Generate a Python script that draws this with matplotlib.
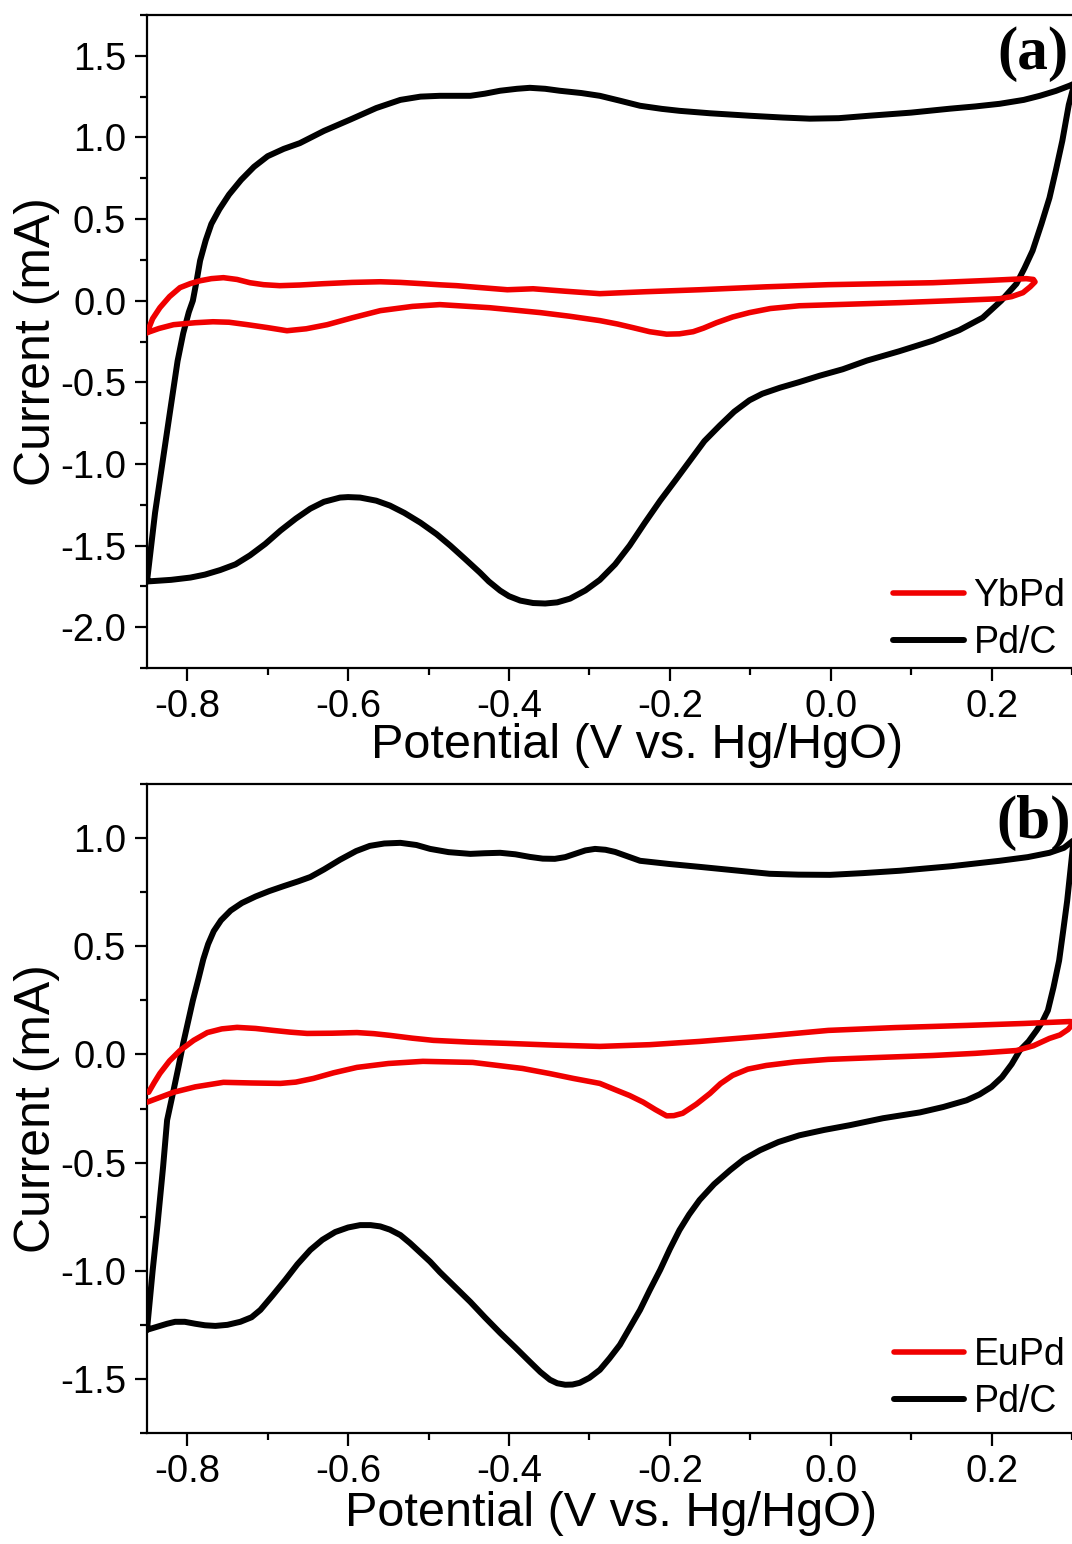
import matplotlib
matplotlib.use("Agg")
import matplotlib.pyplot as plt
from matplotlib.ticker import MultipleLocator, FormatStrFormatter

plt.rcParams['font.family'] = ['Liberation Sans', 'DejaVu Sans']

# ---------------- Panel (a): YbPd vs Pd/C ----------------
a_pdc_x = [-0.850, -0.840, -0.831, -0.822, -0.812, -0.805, -0.798, -0.793, -0.788, -0.784,
           -0.777, -0.770, -0.760, -0.748, -0.733, -0.717, -0.700, -0.680, -0.660, -0.630,
           -0.597, -0.565, -0.535, -0.510, -0.486, -0.448, -0.430, -0.411, -0.390, -0.374,
           -0.355, -0.337, -0.310, -0.287, -0.262, -0.237, -0.210, -0.188, -0.150, -0.101,
           -0.060, -0.026, 0.010, 0.048, 0.100, 0.148, 0.180, 0.210, 0.240, 0.260,
           0.280, 0.297, 0.303,
           0.296, 0.288, 0.280, 0.272, 0.262, 0.251, 0.241, 0.231, 0.212, 0.189,
           0.160, 0.127, 0.085, 0.045, 0.015, -0.014, -0.040, -0.063, -0.085, -0.101,
           -0.120, -0.138, -0.157, -0.175, -0.193, -0.212, -0.231, -0.250, -0.268, -0.287,
           -0.305, -0.324, -0.340, -0.355, -0.370, -0.386, -0.400, -0.411, -0.425, -0.436,
           -0.455, -0.473, -0.490, -0.510, -0.530, -0.548, -0.565, -0.585, -0.600, -0.610,
           -0.630, -0.647, -0.665, -0.684, -0.703, -0.722, -0.740, -0.759, -0.778, -0.796,
           -0.820, -0.850]
a_pdc_y = [-1.72, -1.30, -1.00, -0.70, -0.37, -0.20, -0.07, 0.00, 0.13, 0.245,
           0.37, 0.47, 0.56, 0.65, 0.74, 0.82, 0.885, 0.930, 0.965, 1.04,
           1.11, 1.18, 1.23, 1.25, 1.255, 1.255, 1.268, 1.286, 1.298, 1.304,
           1.298, 1.286, 1.272, 1.255, 1.225, 1.194, 1.175, 1.163, 1.148, 1.133,
           1.122, 1.115, 1.118, 1.133, 1.152, 1.176, 1.19, 1.206, 1.23, 1.255,
           1.285, 1.317, 1.33,
           1.20, 0.98, 0.80, 0.63, 0.47, 0.306, 0.20, 0.104, 0.00, -0.104,
           -0.18, -0.245, -0.31, -0.367, -0.42, -0.46, -0.50, -0.533, -0.57, -0.61,
           -0.68, -0.765, -0.86, -0.98, -1.10, -1.225, -1.36, -1.50, -1.615, -1.71,
           -1.775, -1.825, -1.848, -1.855, -1.852, -1.837, -1.81, -1.776, -1.72, -1.666,
           -1.58, -1.50, -1.43, -1.36, -1.30, -1.255, -1.225, -1.206, -1.203, -1.206,
           -1.232, -1.274, -1.335, -1.408, -1.49, -1.56, -1.615, -1.65, -1.678, -1.696,
           -1.71, -1.72]

a_ybpd_x = [-0.850, -0.843, -0.834, -0.822, -0.809, -0.796, -0.784, -0.770, -0.755, -0.738,
            -0.722, -0.705, -0.685, -0.660, -0.631, -0.595, -0.560, -0.535, -0.507, -0.485,
            -0.465, -0.435, -0.402, -0.370, -0.330, -0.287, -0.230, -0.163, -0.080, -0.003,
            0.127, 0.200, 0.243, 0.252, 0.254, 0.248, 0.239, 0.225, 0.210, 0.150,
            0.086, 0.020, -0.039, -0.075, -0.101, -0.122, -0.142, -0.158, -0.171, -0.188,
            -0.204, -0.225, -0.246, -0.265, -0.287, -0.325, -0.361, -0.424, -0.486, -0.520,
            -0.560, -0.595, -0.626, -0.652, -0.676, -0.700, -0.725, -0.748, -0.768, -0.790,
            -0.817, -0.835, -0.850]
a_ybpd_y = [-0.196, -0.11, -0.043, 0.025, 0.080, 0.105, 0.122, 0.135, 0.141, 0.130,
            0.110, 0.098, 0.092, 0.096, 0.104, 0.112, 0.116, 0.112, 0.104, 0.097,
            0.092, 0.080, 0.067, 0.073, 0.058, 0.043, 0.055, 0.067, 0.085, 0.098,
            0.110, 0.125, 0.135, 0.130, 0.115, 0.085, 0.049, 0.025, 0.012, 0.000,
            -0.012, -0.022, -0.031, -0.048, -0.073, -0.100, -0.135, -0.168, -0.190, -0.203,
            -0.205, -0.190, -0.165, -0.143, -0.122, -0.095, -0.073, -0.043, -0.024, -0.035,
            -0.061, -0.105, -0.147, -0.172, -0.184, -0.165, -0.147, -0.132, -0.129, -0.135,
            -0.147, -0.170, -0.196]

# ---------------- Panel (b): EuPd vs Pd/C ----------------
b_pdc_x = [-0.850, -0.843, -0.837, -0.830, -0.825, -0.817, -0.811, -0.805, -0.799, -0.793,
           -0.786, -0.780, -0.774, -0.767, -0.758, -0.746, -0.732, -0.715, -0.698, -0.680,
           -0.662, -0.647, -0.630, -0.610, -0.590, -0.573, -0.555, -0.535, -0.515, -0.498,
           -0.475, -0.448, -0.430, -0.411, -0.392, -0.374, -0.358, -0.343, -0.330, -0.318,
           -0.305, -0.293, -0.280, -0.268, -0.252, -0.237, -0.200, -0.163, -0.120, -0.076,
           -0.040, -0.001, 0.040, 0.086, 0.150, 0.210, 0.245, 0.272, 0.290, 0.302,
           0.298, 0.294, 0.289, 0.284, 0.277, 0.270, 0.263, 0.256, 0.246, 0.235,
           0.225, 0.213, 0.200, 0.185, 0.169, 0.140, 0.111, 0.065, 0.024, -0.008,
           -0.039, -0.065, -0.088, -0.108, -0.125, -0.145, -0.163, -0.176, -0.188, -0.200,
           -0.212, -0.225, -0.237, -0.250, -0.262, -0.275, -0.287, -0.300, -0.312, -0.321,
           -0.330, -0.340, -0.349, -0.361, -0.374, -0.392, -0.411, -0.430, -0.448, -0.467,
           -0.486, -0.498, -0.511, -0.523, -0.535, -0.548, -0.560, -0.572, -0.585, -0.600,
           -0.616, -0.632, -0.647, -0.663, -0.678, -0.694, -0.709, -0.720, -0.734, -0.750,
           -0.765, -0.778, -0.790, -0.803, -0.815, -0.825, -0.834, -0.850]
b_pdc_y = [-1.273, -1.00, -0.789, -0.52, -0.304, -0.166, -0.06, 0.051, 0.15, 0.249,
           0.35, 0.44, 0.51, 0.57, 0.62, 0.665, 0.700, 0.730, 0.755, 0.778,
           0.800, 0.820, 0.855, 0.900, 0.940, 0.964, 0.975, 0.978, 0.968, 0.950,
           0.935, 0.927, 0.930, 0.932, 0.925, 0.913, 0.905, 0.904, 0.912, 0.927,
           0.943, 0.950, 0.946, 0.936, 0.915, 0.895, 0.880, 0.867, 0.851, 0.835,
           0.831, 0.830, 0.838, 0.849, 0.870, 0.895, 0.912, 0.932, 0.955, 0.990,
           0.85, 0.71, 0.57, 0.434, 0.31, 0.203, 0.15, 0.111, 0.06, 0.018,
           -0.045, -0.105, -0.150, -0.185, -0.212, -0.243, -0.268, -0.295, -0.327, -0.349,
           -0.374, -0.405, -0.443, -0.485, -0.535, -0.600, -0.673, -0.740, -0.812, -0.900,
           -0.996, -1.09, -1.181, -1.265, -1.342, -1.405, -1.458, -1.495, -1.518, -1.526,
           -1.527, -1.520, -1.504, -1.468, -1.421, -1.355, -1.287, -1.215, -1.144, -1.075,
           -1.006, -0.958, -0.913, -0.872, -0.835, -0.810, -0.795, -0.789, -0.789, -0.800,
           -0.821, -0.857, -0.904, -0.970, -1.042, -1.115, -1.181, -1.215, -1.236, -1.250,
           -1.255, -1.252, -1.245, -1.236, -1.236, -1.245, -1.255, -1.273]

b_eupd_x = [-0.848, -0.841, -0.834, -0.822, -0.809, -0.792, -0.775, -0.757, -0.738, -0.715,
            -0.693, -0.672, -0.651, -0.620, -0.589, -0.568, -0.548, -0.520, -0.494, -0.450,
            -0.402, -0.345, -0.287, -0.225, -0.163, -0.080, -0.003, 0.080, 0.169, 0.240,
            0.297, 0.303,
            0.295, 0.285, 0.272, 0.252, 0.231, 0.180, 0.127, 0.060, -0.003, -0.045,
            -0.080, -0.103, -0.122, -0.137, -0.150, -0.167, -0.184, -0.195, -0.204, -0.218,
            -0.233, -0.250, -0.266, -0.287, -0.320, -0.350, -0.383, -0.445, -0.507, -0.550,
            -0.589, -0.618, -0.643, -0.665, -0.684, -0.720, -0.755, -0.790, -0.817, -0.850]
b_eupd_y = [-0.175, -0.13, -0.088, -0.030, 0.018, 0.065, 0.101, 0.118, 0.125, 0.120,
            0.111, 0.103, 0.097, 0.098, 0.101, 0.096, 0.088, 0.075, 0.065, 0.057,
            0.051, 0.043, 0.037, 0.045, 0.060, 0.085, 0.111, 0.124, 0.134, 0.143,
            0.152, 0.150,
            0.115, 0.090, 0.074, 0.040, 0.018, 0.005, -0.005, -0.014, -0.023, -0.035,
            -0.051, -0.068, -0.097, -0.135, -0.180, -0.230, -0.272, -0.283, -0.284, -0.255,
            -0.221, -0.190, -0.166, -0.134, -0.111, -0.088, -0.065, -0.037, -0.032, -0.042,
            -0.060, -0.085, -0.111, -0.128, -0.134, -0.132, -0.129, -0.150, -0.175, -0.221]

panels = [
    dict(pos=[147/1072, 1-668/1544, 925/1072, (668-15)/1544], ylim=(-2.25, 1.75),
         alloy=("YbPd", a_ybpd_x, a_ybpd_y), pdc=(a_pdc_x, a_pdc_y),
         tag="(a)", xlab=(0.530, -0.084), leg_y=0.008),
    dict(pos=[147/1072, 1-1433/1544, 925/1072, (1433-784)/1544], ylim=(-1.75, 1.25),
         alloy=("EuPd", b_eupd_x, b_eupd_y), pdc=(b_pdc_x, b_pdc_y),
         tag="(b)", xlab=(0.502, -0.089), leg_y=0.017),
]

fig = plt.figure(figsize=(10.72, 15.44), dpi=100)

for p in panels:
    ax = fig.add_axes(p["pos"])
    name, ax_x, ax_y = p["alloy"]
    ax.plot(ax_x, ax_y, color='#f00000', lw=4.0, solid_joinstyle='round',
            solid_capstyle='round', label=name, zorder=3)
    ax.plot(p["pdc"][0], p["pdc"][1], color='black', lw=4.3, solid_joinstyle='round',
            solid_capstyle='round', label="Pd/C", zorder=2)
    ax.set_xlim(-0.85, 0.30)
    ax.set_ylim(*p["ylim"])
    ax.xaxis.set_major_locator(MultipleLocator(0.2))
    ax.xaxis.set_minor_locator(MultipleLocator(0.1))
    ax.yaxis.set_major_locator(MultipleLocator(0.5))
    ax.yaxis.set_minor_locator(MultipleLocator(0.25))
    ax.xaxis.set_major_formatter(FormatStrFormatter('%.1f'))
    ax.yaxis.set_major_formatter(FormatStrFormatter('%.1f'))
    ax.spines['right'].set_visible(False)
    for s in ['left', 'top', 'bottom']:
        ax.spines[s].set_linewidth(1.6)
    ax.tick_params(which='major', direction='out', length=9, width=1.6, labelsize=27.5)
    ax.tick_params(which='minor', direction='out', length=5, width=1.6)
    ax.tick_params(axis='x', which='major', pad=6)
    ax.tick_params(axis='y', which='major', pad=6)
    ax.tick_params(right=False, top=False, which='both')
    ax.set_xlabel("Potential (V vs. Hg/HgO)", fontsize=35)
    ax.xaxis.set_label_coords(*p["xlab"])
    ax.set_ylabel("Current (mA)", fontsize=36)
    ax.yaxis.set_label_coords(-0.094, 0.5)
    ax.text(0.958, 0.94, p["tag"], transform=ax.transAxes, ha='center', va='center',
            fontsize=44, fontweight='bold', family='Liberation Serif')
    ax.legend(loc='lower right', bbox_to_anchor=(0.995, p["leg_y"]), frameon=False,
              fontsize=27, handlelength=1.87, handletextpad=0.27, labelspacing=0.3,
              borderpad=0.05, borderaxespad=0.0)

fig.savefig("out.png", dpi=100)
